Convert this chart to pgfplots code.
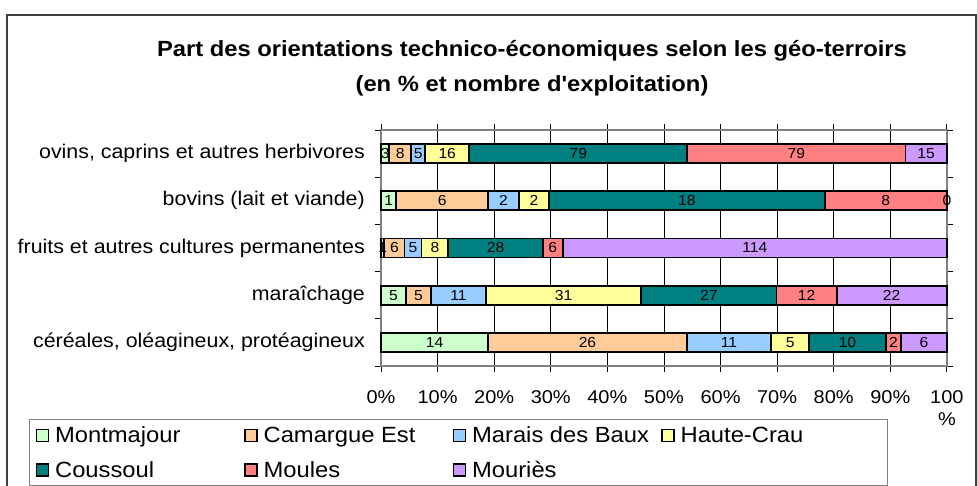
\documentclass[border=0pt]{standalone}
\usepackage{fontspec}
\setmainfont{Liberation Sans}[FakeStretch=1.08]
\newfontfamily\titlefont{Liberation Sans}[FakeStretch=1.08]
\usepackage{pgfplots}
\pgfplotsset{compat=1.18}
\usepackage{pgfplotstable}

\definecolor{cMon}{HTML}{CCFFCC}
\definecolor{cCam}{HTML}{FFCC99}
\definecolor{cMar}{HTML}{99CCFF}
\definecolor{cHC}{HTML}{FFFF99}
\definecolor{cCou}{HTML}{008080}
\definecolor{cMou}{HTML}{FF8080}
\definecolor{cMri}{HTML}{CC99FF}
\definecolor{frame}{HTML}{404040}
\definecolor{axgray}{HTML}{808080}

% percentages of each row, and the count shown on the bar
\pgfplotstableread{
y pMon nMon pCam nCam pMar nMar pHC nHC pCou nCou pMou nMou pMri nMri
0 18.92 14 35.14 26 14.86 11 6.76 5 13.51 10 2.70 2 8.11 6
1 4.42 5 4.42 5 9.73 11 27.43 31 23.89 27 10.62 12 19.47 22
2 0.60 1 3.57 6 2.98 5 4.76 8 16.67 28 3.57 6 67.84 114
3 2.70 1 16.22 6 5.41 2 5.41 2 48.65 18 21.60 8 0.01 0
4 1.46 3 3.90 8 2.44 5 7.80 16 38.54 79 38.54 79 7.32 15
}\data

\begin{document}
\begin{tikzpicture}
\path[use as bounding box] (0,0) rectangle (977bp,486bp);
\draw[frame, line width=1.5bp] (7bp,-5bp) -- (7bp,471bp) -- (976bp,471bp) -- (976bp,-5bp);
\node[anchor=base, font=\titlefont\fontsize{22bp}{26bp}\selectfont\bfseries] at (532bp,429bp)
  {Part des orientations technico-économiques selon les géo-terroirs};
\node[anchor=base, font=\titlefont\fontsize{22bp}{26bp}\selectfont\bfseries] at (532bp,394bp)
  {(en \% et nombre d'exploitation)};
\begin{axis}[
    at={(381bp,120bp)}, anchor=south west,
    scale only axis, width=566bp, height=236bp,
    xbar stacked, bar width=19bp,
    xmin=0, xmax=100.02, ymin=-0.5, ymax=4.5,
    enlargelimits=false,
    xtick={0,10,...,100},
    xticklabels={0\%,10\%,20\%,30\%,40\%,50\%,60\%,70\%,80\%,90\%,{100\\\%}},
    ytick={0,1,2,3,4},
    yticklabels={{céréales, oléagineux, protéagineux},maraîchage,{fruits et autres cultures permanentes},{bovins (lait et viande)},{ovins, caprins et autres herbivores}},
    minor ytick={-0.5,0.5,...,4.5},
    tick align=outside,
    major tick length=6bp, minor tick length=6bp,
    major y tick style={draw=none},
    minor y tick style={draw=black, line width=0.8bp},
    major x tick style={draw=black, line width=0.8bp},
    xmajorgrids,
    major grid style={draw=black, line width=0.8bp},
    axis line style={draw=axgray, line width=1.2bp},
    xticklabel style={font=\fontsize{18.5bp}{22bp}\selectfont, anchor=north, align=center, inner sep=0pt},
    yticklabel style={font=\fontsize{19.8bp}{22bp}\selectfont, anchor=east, inner sep=0pt},
    xticklabel shift=18bp,
    yticklabel shift=10bp,
    clip=false,
    point meta=explicit symbolic,
    nodes near coords,
    every node near coord/.append style={font=\fontsize{14.5bp}{17bp}\selectfont, anchor=center, inner sep=0pt},
    every axis plot/.append style={draw=black, line width=1.8bp},
    legend columns=4,
    legend cell align=left,
    legend style={at={(-0.6219,-0.2246)}, anchor=north west, draw=axgray, line width=1.2bp,
      font=\fontsize{22bp}{26bp}\selectfont, inner xsep=6bp, inner ysep=6bp, row sep=15bp,
      nodes={inner xsep=6bp, inner ysep=1bp}},
    legend image code/.code={\draw[#1, line width=1.5bp, draw=black] (0bp,-6bp) rectangle (12bp,6bp);},
]
\addplot[fill=cMon] table[x=pMon, y=y, meta=nMon] {\data};
\addlegendentry{\makebox[183bp][l]{Montmajour}}
\addplot[fill=cCam] table[x=pCam, y=y, meta=nCam] {\data};
\addlegendentry{\makebox[183bp][l]{Camargue Est}}
\addplot[fill=cMar] table[x=pMar, y=y, meta=nMar] {\data};
\addlegendentry{\makebox[183bp][l]{Marais des Baux}}
\addplot[fill=cHC] table[x=pHC, y=y, meta=nHC] {\data};
\addlegendentry{\makebox[195bp][l]{Haute-Crau}}
\addplot[fill=cCou] table[x=pCou, y=y, meta=nCou] {\data};
\addlegendentry{\makebox[183bp][l]{Coussoul}}
\addplot[fill=cMou] table[x=pMou, y=y, meta=nMou] {\data};
\addlegendentry{\makebox[183bp][l]{Moules}}
\addplot[fill=cMri] table[x=pMri, y=y, meta=nMri] {\data};
\addlegendentry{\makebox[183bp][l]{Mouriès}}
\end{axis}
\end{tikzpicture}
\end{document}
